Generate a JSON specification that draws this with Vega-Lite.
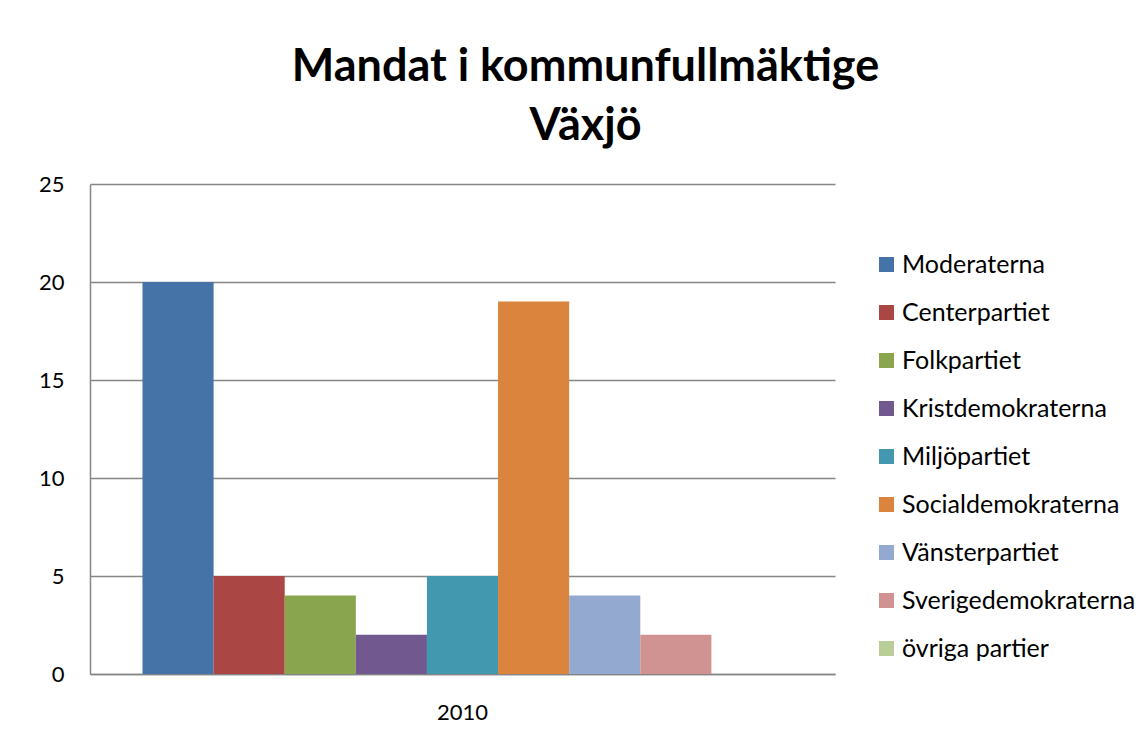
{
  "$schema": "https://vega.github.io/schema/vega-lite/v6.json",
  "width": 745,
  "height": 490,
  "autosize": {"type": "none"},
  "padding": {"left": 90, "top": 184, "right": 311, "bottom": 79},
  "background": "white",
  "title": {
    "text": ["Mandat i kommunfullmäktige", "Växjö"],
    "font": "Lato",
    "fontSize": 45,
    "fontWeight": "bold",
    "color": "black",
    "lineHeight": 59,
    "anchor": "middle",
    "frame": "group",
    "dx": 123,
    "offset": 24
  },
  "data": {
    "values": [
      {"year": "2010", "party": "Moderaterna", "mandat": 20},
      {"year": "2010", "party": "Centerpartiet", "mandat": 5},
      {"year": "2010", "party": "Folkpartiet", "mandat": 4},
      {"year": "2010", "party": "Kristdemokraterna", "mandat": 2},
      {"year": "2010", "party": "Miljöpartiet", "mandat": 5},
      {"year": "2010", "party": "Socialdemokraterna", "mandat": 19},
      {"year": "2010", "party": "Vänsterpartiet", "mandat": 4},
      {"year": "2010", "party": "Sverigedemokraterna", "mandat": 2},
      {"year": "2010", "party": "övriga partier", "mandat": 0}
    ]
  },
  "mark": {"type": "bar"},
  "encoding": {
    "x": {
      "field": "year",
      "type": "nominal",
      "scale": {"paddingOuter": 0.082, "paddingInner": 0},
      "axis": {
        "title": null,
        "labelAngle": 0,
        "ticks": false,
        "domainColor": "#868686",
        "domainWidth": 1.5,
        "labelFont": "Lato",
        "labelFontSize": 22,
        "labelColor": "black",
        "labelPadding": 28
      }
    },
    "xOffset": {
      "field": "party",
      "type": "nominal",
      "sort": ["Moderaterna", "Centerpartiet", "Folkpartiet", "Kristdemokraterna", "Miljöpartiet", "Socialdemokraterna", "Vänsterpartiet", "Sverigedemokraterna", "övriga partier"],
      "scale": {"paddingInner": 0, "paddingOuter": 0}
    },
    "y": {
      "field": "mandat",
      "type": "quantitative",
      "scale": {"domain": [0, 25], "nice": false},
      "axis": {
        "title": null,
        "values": [0, 5, 10, 15, 20, 25],
        "ticks": false,
        "domainColor": "#868686",
        "domainWidth": 1.5,
        "gridColor": "#868686",
        "gridWidth": 1.3,
        "labelFont": "Lato",
        "labelFontSize": 22,
        "labelColor": "black",
        "labelPadding": 26
      }
    },
    "color": {
      "field": "party",
      "type": "nominal",
      "sort": ["Moderaterna", "Centerpartiet", "Folkpartiet", "Kristdemokraterna", "Miljöpartiet", "Socialdemokraterna", "Vänsterpartiet", "Sverigedemokraterna", "övriga partier"],
      "scale": {
        "domain": ["Moderaterna", "Centerpartiet", "Folkpartiet", "Kristdemokraterna", "Miljöpartiet", "Socialdemokraterna", "Vänsterpartiet", "Sverigedemokraterna", "övriga partier"],
        "range": ["#4572A7", "#AA4643", "#89A54E", "#71588F", "#4198AF", "#DB843D", "#93A9CF", "#D19392", "#B9CD96"]
      },
      "legend": {
        "title": null,
        "orient": "none",
        "legendX": 784,
        "legendY": 68,
        "symbolType": "square",
        "symbolSize": 225,
        "symbolStrokeWidth": 0,
        "symbolOpacity": 1,
        "labelFont": "Lato",
        "labelFontSize": 25,
        "labelColor": "black",
        "labelOffset": 3,
        "rowPadding": 22,
        "labelLimit": 300
      }
    }
  },
  "config": {
    "view": {"stroke": null}
  }
}
